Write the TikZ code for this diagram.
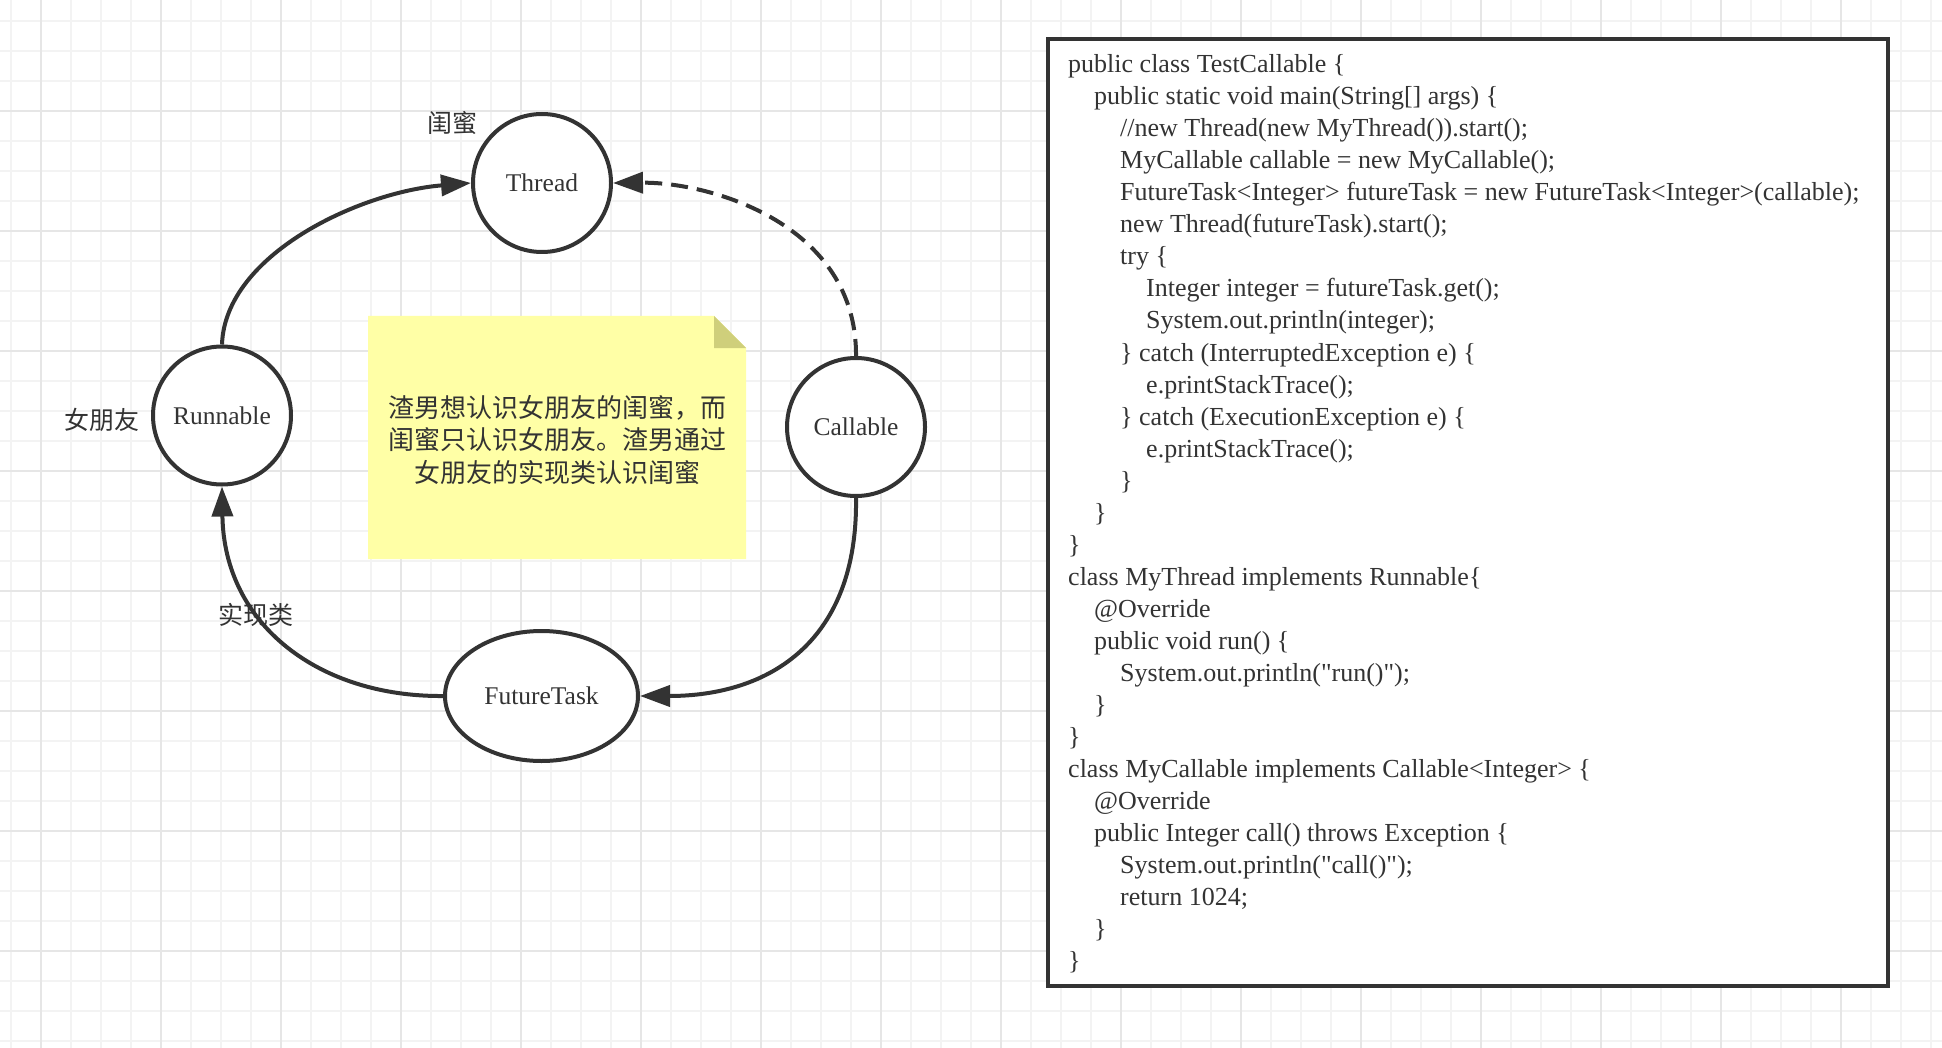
\documentclass[tikz,border=0pt]{standalone}
\usepackage{fontspec}
\setmainfont{Liberation Serif}
\newfontfamily\cjk{Noto Sans CJK SC}
\usetikzlibrary{arrows.meta,shapes.geometric}

\definecolor{ink}{HTML}{333333}
\definecolor{gridminor}{HTML}{F3F3F3}
\definecolor{gridmajor}{HTML}{E6E6E6}
\definecolor{notefill}{HTML}{FFFFA6}
\definecolor{notefold}{HTML}{CFCF7B}

\tikzset{
  state/.style={circle, draw=ink, line width=4pt, fill=white,
    minimum size=138pt, inner sep=0pt, text=ink,
    font=\fontsize{25.5}{30}\selectfont},
  taskstate/.style={ellipse, draw=ink, line width=4pt, fill=white,
    minimum width=193pt, minimum height=130pt, inner sep=0pt, text=ink,
    font=\fontsize{25.5}{30}\selectfont},
  link/.style={draw=ink, line width=4pt, -{Triangle[length=30pt,width=21pt]}},
  weaklink/.style={link, dash pattern=on 17pt off 9pt},
  hint/.style={text=ink, inner sep=0pt, font=\cjk\fontsize{25}{30}\selectfont},
  notetext/.style={text=ink, inner sep=0pt, align=center,
    font=\cjk\fontsize{26}{32.5}\selectfont},
  codeframe/.style={draw=ink, line width=4pt, fill=white, inner sep=0pt},
  codetext/.style={anchor=base west, inner sep=0pt, text=ink,
    font=\fontsize{26}{32}\selectfont},
}

% code line: name, indent level, row, text
\newcommand\codeln[4]{\node[codetext] (#1) at ({1068+26*#2},{73+32*#3}) {#4};}
% straight double quote
\newcommand\dq{\textquotedbl}

\begin{document}
\begin{tikzpicture}[x=1pt,y=-1pt]
  \useasboundingbox (0,0) rectangle (1942,1048);
  \fill[white] (0,0) rectangle (1942,1048);

  % paper grid
  \foreach \gx in {11,41,...,1931}
    \draw[gridminor, line width=1.5pt] (\gx,0) -- (\gx,1048);
  \foreach \gy in {21,51,...,1041}
    \draw[gridminor, line width=1.5pt] (0,\gy) -- (1942,\gy);
  \foreach \gx in {41,161,...,1921}
    \draw[gridmajor, line width=1.8pt] (\gx,0) -- (\gx,1048);
  \foreach \gy in {111,231,...,951}
    \draw[gridmajor, line width=1.8pt] (0,\gy) -- (1942,\gy);

  % sticky note
  \fill[notefill] (368,316) -- (714,316) -- (746,348) -- (746,559) -- (368,559) -- cycle;
  \fill[notefold] (714,316) -- (714,348) -- (746,348) -- cycle;
  \node[notetext] (note) at (557,440)
    {渣男想认识女朋友的闺蜜，而\\闺蜜只认识女朋友。渣男通过\\女朋友的实现类认识闺蜜};

  % classes
  \node[state] (thread) at (542,183) {Thread};
  \node[state] (runnable) at (222,415.5) {Runnable};
  \node[state] (callable) at (856,427) {Callable};
  \node[taskstate] (future) at (541.5,696) {FutureTask};

  % role labels
  \node[hint] (lblthread) at (452,123) {闺蜜};
  \node[hint] (lblrunnable) at (102,420) {女朋友};

  % relations
  \draw[link] (runnable.north) .. controls +(3,-90) and +(-111,9) .. (thread.west);
  \draw[weaklink] (callable.north) .. controls +(1,-132) and +(97,-1) .. (thread.east);
  \draw[link] (callable.south) .. controls +(2,143) and +(130,0) .. (future.east);
  \draw[link] (future.west) .. controls +(-123,1) and +(2,139) .. (runnable.south);
  \node[hint] (lblimpl) at (256,615) {实现类};

  % source listing
  \node[codeframe, minimum width=840pt, minimum height=946.5pt] (codebox) at (1467.5,512.25) {};
  \codeln{c1}{0}{0}{public class TestCallable \{}
  \codeln{c2}{1}{1}{public static void main(String[] args) \{}
  \codeln{c3}{2}{2}{//new Thread(new MyThread()).start();}
  \codeln{c4}{2}{3}{MyCallable callable = new MyCallable();}
  \codeln{c5}{2}{4}{FutureTask<Integer> futureTask = new FutureTask<Integer>(callable);}
  \codeln{c6}{2}{5}{new Thread(futureTask).start();}
  \codeln{c7}{2}{6}{try \{}
  \codeln{c8}{3}{7}{Integer integer = futureTask.get();}
  \codeln{c9}{3}{8}{System.out.println(integer);}
  \codeln{c10}{2}{9}{\} catch (InterruptedException e) \{}
  \codeln{c11}{3}{10}{e.printStackTrace();}
  \codeln{c12}{2}{11}{\} catch (ExecutionException e) \{}
  \codeln{c13}{3}{12}{e.printStackTrace();}
  \codeln{c14}{2}{13}{\}}
  \codeln{c15}{1}{14}{\}}
  \codeln{c16}{0}{15}{\}}
  \codeln{c17}{0}{16}{class MyThread implements Runnable\{}
  \codeln{c18}{1}{17}{@Override}
  \codeln{c19}{1}{18}{public void run() \{}
  \codeln{c20}{2}{19}{System.out.println(\dq run()\dq);}
  \codeln{c21}{1}{20}{\}}
  \codeln{c22}{0}{21}{\}}
  \codeln{c23}{0}{22}{class MyCallable implements Callable<Integer> \{}
  \codeln{c24}{1}{23}{@Override}
  \codeln{c25}{1}{24}{public Integer call() throws Exception \{}
  \codeln{c26}{2}{25}{System.out.println(\dq call()\dq);}
  \codeln{c27}{2}{26}{return 1024;}
  \codeln{c28}{1}{27}{\}}
  \codeln{c29}{0}{28}{\}}
\end{tikzpicture}
\end{document}
